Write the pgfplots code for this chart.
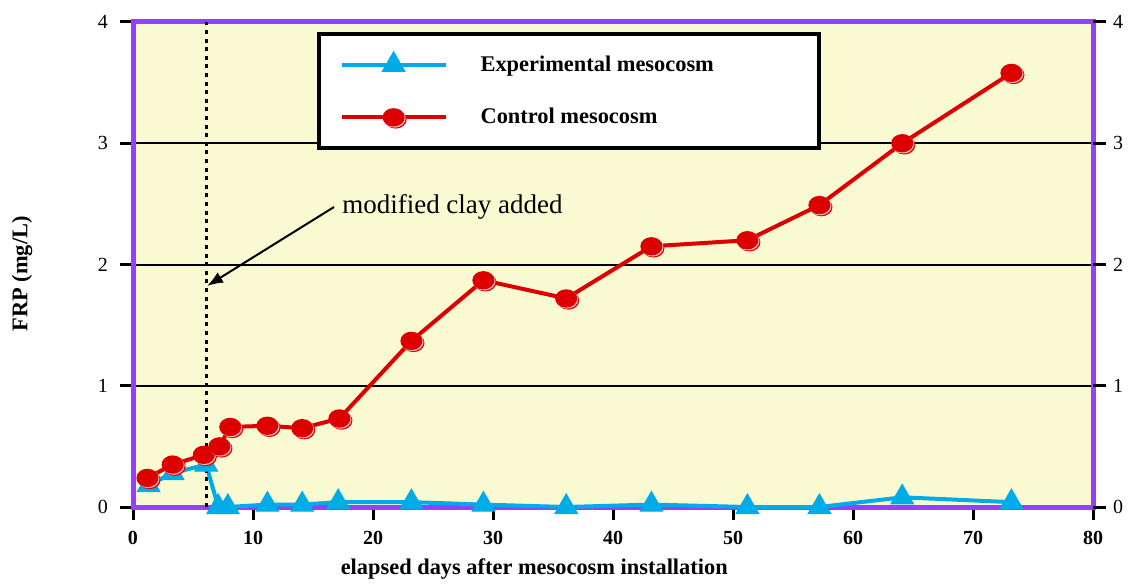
\documentclass[border=0pt]{standalone}
\usepackage{pgfplots}
\pgfplotsset{compat=1.18}
\usepackage{fontspec}
\setmainfont{Liberation Serif}
\usetikzlibrary{arrows.meta}

\definecolor{bgyellow}{RGB}{250,250,210}
\definecolor{framepurple}{RGB}{152,62,255}
\definecolor{ctrlred}{RGB}{220,0,0}
\definecolor{expblue}{RGB}{0,172,232}

% glossy ball marker: offset shadow, thin white rim, main ellipse
\pgfdeclareplotmark{ball}{%
  \pgfpathellipse{\pgfpoint{0.22\pgfplotmarksize}{-0.22\pgfplotmarksize}}%
    {\pgfpoint{1.2\pgfplotmarksize}{0pt}}{\pgfpoint{0pt}{\pgfplotmarksize}}%
  \pgfusepathqfill
  \begin{pgfscope}
    \pgfsetfillcolor{white!75!ctrlred}
    \pgfpathellipse{\pgfpoint{0.11\pgfplotmarksize}{-0.11\pgfplotmarksize}}%
      {\pgfpoint{1.2\pgfplotmarksize}{0pt}}{\pgfpoint{0pt}{\pgfplotmarksize}}%
    \pgfusepathqfill
  \end{pgfscope}
  \pgfpathellipse{\pgfpointorigin}%
    {\pgfpoint{1.2\pgfplotmarksize}{0pt}}{\pgfpoint{0pt}{\pgfplotmarksize}}%
  \pgfusepathqfill
}

\begin{document}
\begin{tikzpicture}
\begin{axis}[
  scale only axis, width=480pt, height=242.5pt,
  xmin=0, xmax=80, ymin=0, ymax=4,
  xtick={0,10,...,80}, ytick={0,1,2,3,4},
  tick pos=left, tick align=outside, major tick length=6.5pt,
  tick style={black, line width=1.5pt},
  ymajorgrids, grid style={black, line width=1pt},
  axis line style={draw=framepurple, line width=2.5pt},
  axis background/.style={fill=bgyellow},
  /pgf/number format/assume math mode=true,
  xticklabel style={font=\bfseries\fontsize{10}{12}\selectfont, yshift=-2pt},
  yticklabel style={font=\fontsize{10}{12}\selectfont, xshift=-2.5pt},
  xlabel={elapsed days after mesocosm installation},
  ylabel={FRP (mg/L)},
  xlabel style={at={(rel axis cs:0.418,0)}, anchor=center, yshift=-31pt,
    font=\bfseries\fontsize{11.2}{13}\selectfont},
  ylabel style={at={(rel axis cs:-0.1156,0.481)}, anchor=center,
    font=\bfseries\fontsize{11.2}{13}\selectfont},
  clip=false,
  legend style={at={(axis cs:15.3,3.918)}, anchor=north west,
    draw=black, line width=2pt, fill=white,
    inner xsep=10.5pt, inner ysep=8.8pt, row sep=13pt, column sep=14.5pt,
    font=\bfseries\fontsize{11.2}{13}\selectfont},
  legend cell align=left,
  legend image code/.code={%
    \draw[mark repeat=2, mark phase=2, #1]
      plot coordinates {(0pt,0pt) (26pt,0pt) (52pt,0pt)};},
]
\addplot[expblue, line width=2pt, mark=triangle*, mark size=6.5pt,
  mark options={fill=expblue, draw=expblue, line width=0.5pt}]
  coordinates {
  (1.3,0.18) (3.3,0.28) (6.1,0.35) (7.1,0.0) (7.9,0.0) (11.2,0.02)
  (14.1,0.02) (17.1,0.04) (23.2,0.04) (29.2,0.02) (36.1,0.0)
  (43.2,0.02) (51.2,0.0) (57.2,0.0) (64.1,0.08) (73.2,0.04)};
\addlegendentry{\makebox[156.5pt][l]{Experimental mesocosm}}

\addplot[ctrlred, line width=2pt, mark=ball, mark size=4.6pt,
  mark options={fill=ctrlred, draw=none}]
  coordinates {
  (1.2,0.24) (3.3,0.35) (5.9,0.43) (7.2,0.50) (8.1,0.66) (11.2,0.67)
  (14.1,0.65) (17.2,0.73) (23.2,1.37) (29.2,1.87) (36.1,1.72)
  (43.2,2.15) (51.2,2.20) (57.2,2.49) (64.1,3.00) (73.2,3.58)};
\addlegendentry{\makebox[156.5pt][l]{Control mesocosm}}

% day the modified clay was added
\draw[black, line width=1.5pt, dash pattern=on 2pt off 2.3pt]
  (axis cs:6.1,0) -- (axis cs:6.1,4);
\draw[black, line width=1pt, -{Latex[length=8pt,width=6pt]}]
  (axis cs:16.75,2.474) -- (axis cs:6.17,1.823);
\node[anchor=west, font=\fontsize{13.5}{16}\selectfont]
  at (axis cs:16.85,2.474) {modified clay added};

\coordinate (bl) at (rel axis cs:0,0);
\coordinate (tr) at (rel axis cs:1,1);
\end{axis}

% right-hand y axis with its own tick labels
\begin{axis}[
  scale only axis, width=480pt, height=242.5pt,
  xmin=0, xmax=80, ymin=0, ymax=4,
  hide x axis, axis y line*=right,
  ytick={0,1,2,3,4},
  tick align=outside, major tick length=6.5pt,
  tick style={black, line width=1.5pt},
  axis line style={draw=none},
  /pgf/number format/assume math mode=true,
  yticklabel style={font=\fontsize{10}{12}\selectfont},
]
\end{axis}

\path ([shift={(-66.5pt,-36pt)}]bl) rectangle ([shift={(19pt,11pt)}]tr);
\end{tikzpicture}
\end{document}
